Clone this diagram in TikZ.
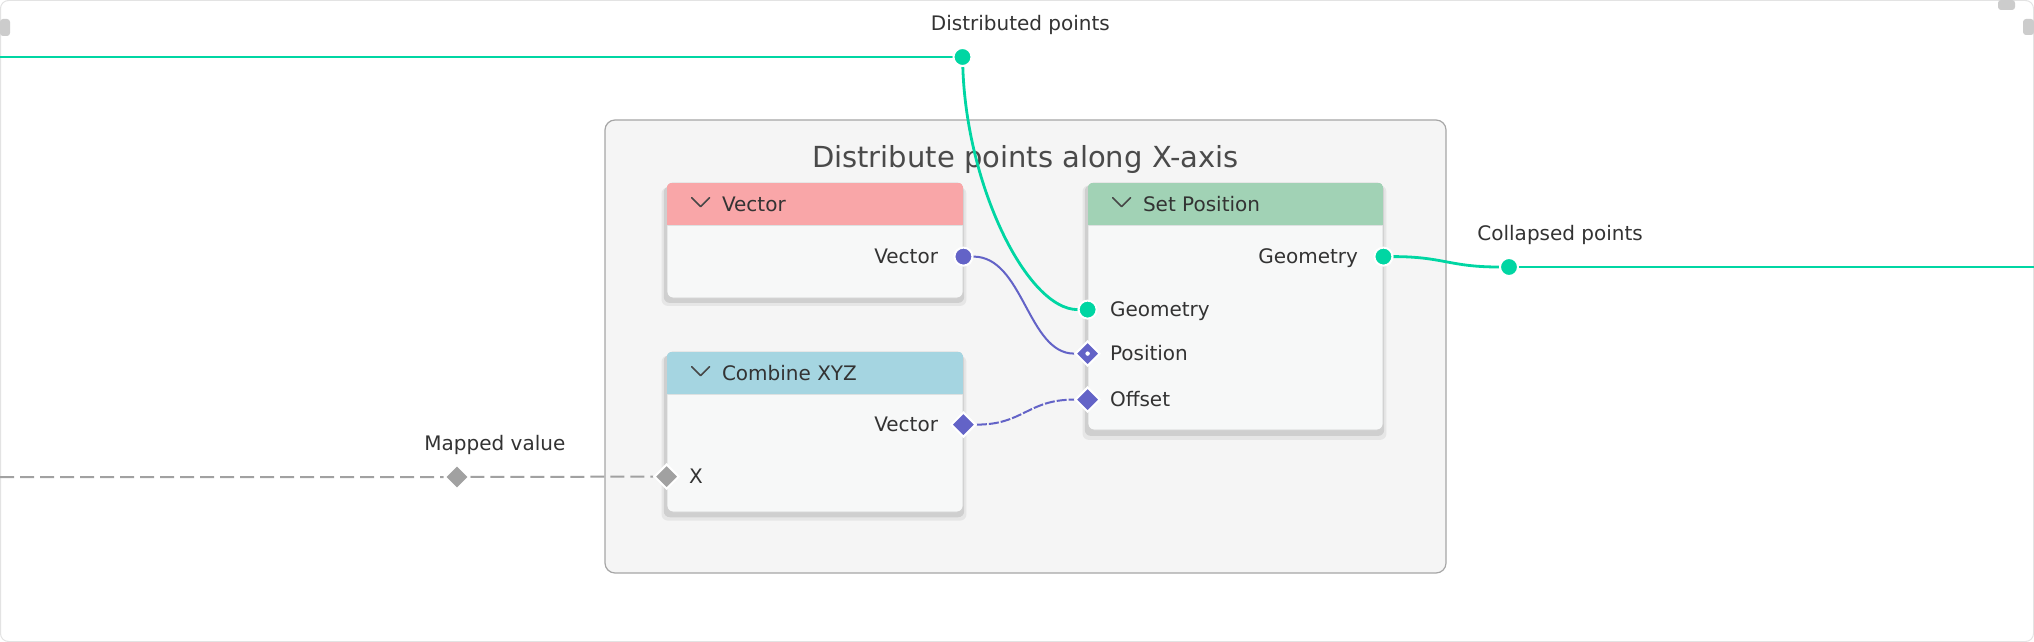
\documentclass[tikz,border=0pt]{standalone}
\usepackage{fontspec}
\setmainfont{DejaVu Sans}
\usetikzlibrary{positioning,calc,shapes.geometric,shadows}

\definecolor{geogreen}{HTML}{00D6A3}
\definecolor{vecpurple}{HTML}{6363C7}
\definecolor{floatgray}{HTML}{A1A1A1}
\definecolor{vechead}{HTML}{F9A6A8}
\definecolor{cmbhead}{HTML}{A5D5E1}
\definecolor{setphead}{HTML}{A1D2B5}
\definecolor{nodebody}{HTML}{F7F8F8}
\definecolor{nodeedge}{HTML}{CFCFCF}
\definecolor{headsep}{HTML}{DDE1E1}
\definecolor{framebg}{HTML}{F5F5F5}
\definecolor{frameedge}{HTML}{A6A6A6}
\definecolor{outeredge}{HTML}{E3E3E3}
\definecolor{tabgray}{HTML}{CCCCCC}
\definecolor{textdark}{HTML}{333333}
\definecolor{titlegray}{HTML}{4A4A4A}

\pgfdeclarelayer{back}
\pgfdeclarelayer{links}
\pgfsetlayers{back,links,main}

\begin{document}
\begin{tikzpicture}[x=0.5pt,y=-0.5pt,
    nodebox/.style={draw=nodeedge, fill=nodebody, rounded corners=3pt, inner sep=0pt,
      minimum width=148pt,
      drop shadow={shadow xshift=-0.5pt, shadow yshift=-3pt, shadow scale=1.03, opacity=0.12},
      drop shadow={shadow xshift=-0.5pt, shadow yshift=-2pt, shadow scale=1.015, opacity=0.22}},
    groupbox/.style={draw=frameedge, fill=framebg, line width=0.6pt, rounded corners=5pt,
      inner sep=0pt},
    sockc/.style={circle, fill=#1, draw=white, line width=1pt, minimum size=9pt, inner sep=0pt},
    sockd/.style={diamond, fill=#1, draw=white, line width=1pt, minimum size=12.5pt, inner sep=0pt},
    lbl/.style={text=textdark, font=\fontsize{10}{12}\selectfont, inner sep=0pt,
      text height=7.3pt, text depth=0pt},
    title/.style={text=titlegray, font=\fontsize{14.5}{17}\selectfont, inner sep=0pt,
      text height=10.6pt, text depth=0pt},
    chev/.style={draw=textdark!90, line width=0.8pt, line cap=round, line join=round},
    geolink/.style={geogreen, line width=1.4pt},
    veclink/.style={vecpurple, line width=1pt}]

  % Outer frame and group
  \begin{pgfonlayer}{back}
    \draw[outeredge, fill=white, line width=0.5pt, rounded corners=4pt] (0.5,0.5) rectangle (2033.5,641.5);
    \fill[tabgray, rounded corners=1.5pt] (0,19) rectangle (10,36);
    \fill[tabgray, rounded corners=1.5pt] (1998,0) rectangle (2015,10);
    \fill[tabgray, rounded corners=1.5pt] (2023,19) rectangle (2034,35);

    \node[groupbox, minimum width=420.5pt, minimum height=226.5pt] (grp) at (1025.5,346.5) {};
    \node[title] at ($(grp.north)+(0,38)$) {Distribute points along X-axis};
  \end{pgfonlayer}
  \useasboundingbox (0,0) rectangle (2034,642);

  % Nodes
  \node[nodebox, minimum height=57.5pt] (vec) at (815,240.5) {};
  \node[nodebox, minimum height=80pt] (cmb) at (815,432) {};
  \node[nodebox, minimum width=147.5pt, minimum height=123.5pt] (setp) at (1235.5,306.5) {};

  \foreach \n/\hc/\ttl in {vec/vechead/Vector, cmb/cmbhead/Combine XYZ, setp/setphead/Set Position} {
    \begin{scope}
      \clip[rounded corners=3pt] (\n.north west) rectangle (\n.south east);
      \fill[\hc] (\n.north west) rectangle ($(\n.north east)+(0,43)$);
    \end{scope}
    \draw[headsep, line width=0.5pt] ($(\n.north west)+(0,43)$) -- ($(\n.north east)+(0,43)$);
    \draw[chev] ($(\n.north west)+(25,15)$) -- ++(9,9) -- ++(9,-9);
    \node[lbl, anchor=west] at ($(\n.north west)+(55,21.5)$) {\ttl};
  }

  % Sockets
  \node[sockc=vecpurple] (vecout) at ($(vec.north east)+(0,74)$) {};
  \node[sockd=vecpurple] (cmbout) at ($(cmb.north east)+(0,73)$) {};
  \node[sockd=floatgray] (cmbx) at ($(cmb.north west)+(0,125)$) {};
  \node[sockc=geogreen] (setpout) at ($(setp.north east)+(0,74)$) {};
  \node[sockc=geogreen] (setpgeo) at ($(setp.north west)+(0,127)$) {};
  \node[sockd=vecpurple] (setppos) at ($(setp.north west)+(0,171)$) {};
  \node[sockd=vecpurple] (setpoff) at ($(setp.north west)+(0,217)$) {};
  \fill[white] (setppos) circle (1.1pt);

  \node[lbl, left=12.5pt of vecout.center] {Vector};
  \node[lbl, left=12.5pt of cmbout.center] {Vector};
  \node[lbl, right=11pt of cmbx.center] {X};
  \node[lbl, left=12.5pt of setpout.center] {Geometry};
  \foreach \s/\t in {setpgeo/Geometry, setppos/Position, setpoff/Offset}
    \node[lbl, right=11pt of \s.center] {\t};

  % Reroutes
  \node[sockc=geogreen] (rdist) at (962.5,57) {};
  \node[sockc=geogreen] (rcoll) at (1509,267) {};
  \node[sockd=floatgray] (rmap) at (457,477) {};
  \node[lbl, anchor=west] at ($(rdist)+(-32,-34)$) {Distributed points};
  \node[lbl, anchor=west] at ($(rcoll)+(-32,-34)$) {Collapsed points};
  \node[lbl, anchor=west] at ($(rmap)+(-33,-34)$) {Mapped value};

  \coordinate (inl) at (0,57);
  \coordinate (outr) at (2034,267);
  \coordinate (inm) at (0,477);

  % Links
  \begin{pgfonlayer}{links}
    \draw[geolink] (inl) -- (rdist);
    \draw[geolink] (rdist) .. controls +(4,130) and +(-60,0) .. (setpgeo);
    \draw[veclink] (vecout) .. controls +(60,0) and +(-60,0) .. (setppos);
    \draw[veclink, dash pattern=on 5pt off 1pt] (cmbout) .. controls +(60,0) and +(-60,0) .. (setpoff);
    \draw[geolink] (setpout) .. controls +(60,0) and +(-60,0) .. (rcoll);
    \draw[geolink] (rcoll) -- (outr);
    \draw[floatgray, line width=1pt, dash pattern=on 7pt off 3pt] (inm) -- (rmap) -- (cmbx);
  \end{pgfonlayer}
\end{tikzpicture}
\end{document}
